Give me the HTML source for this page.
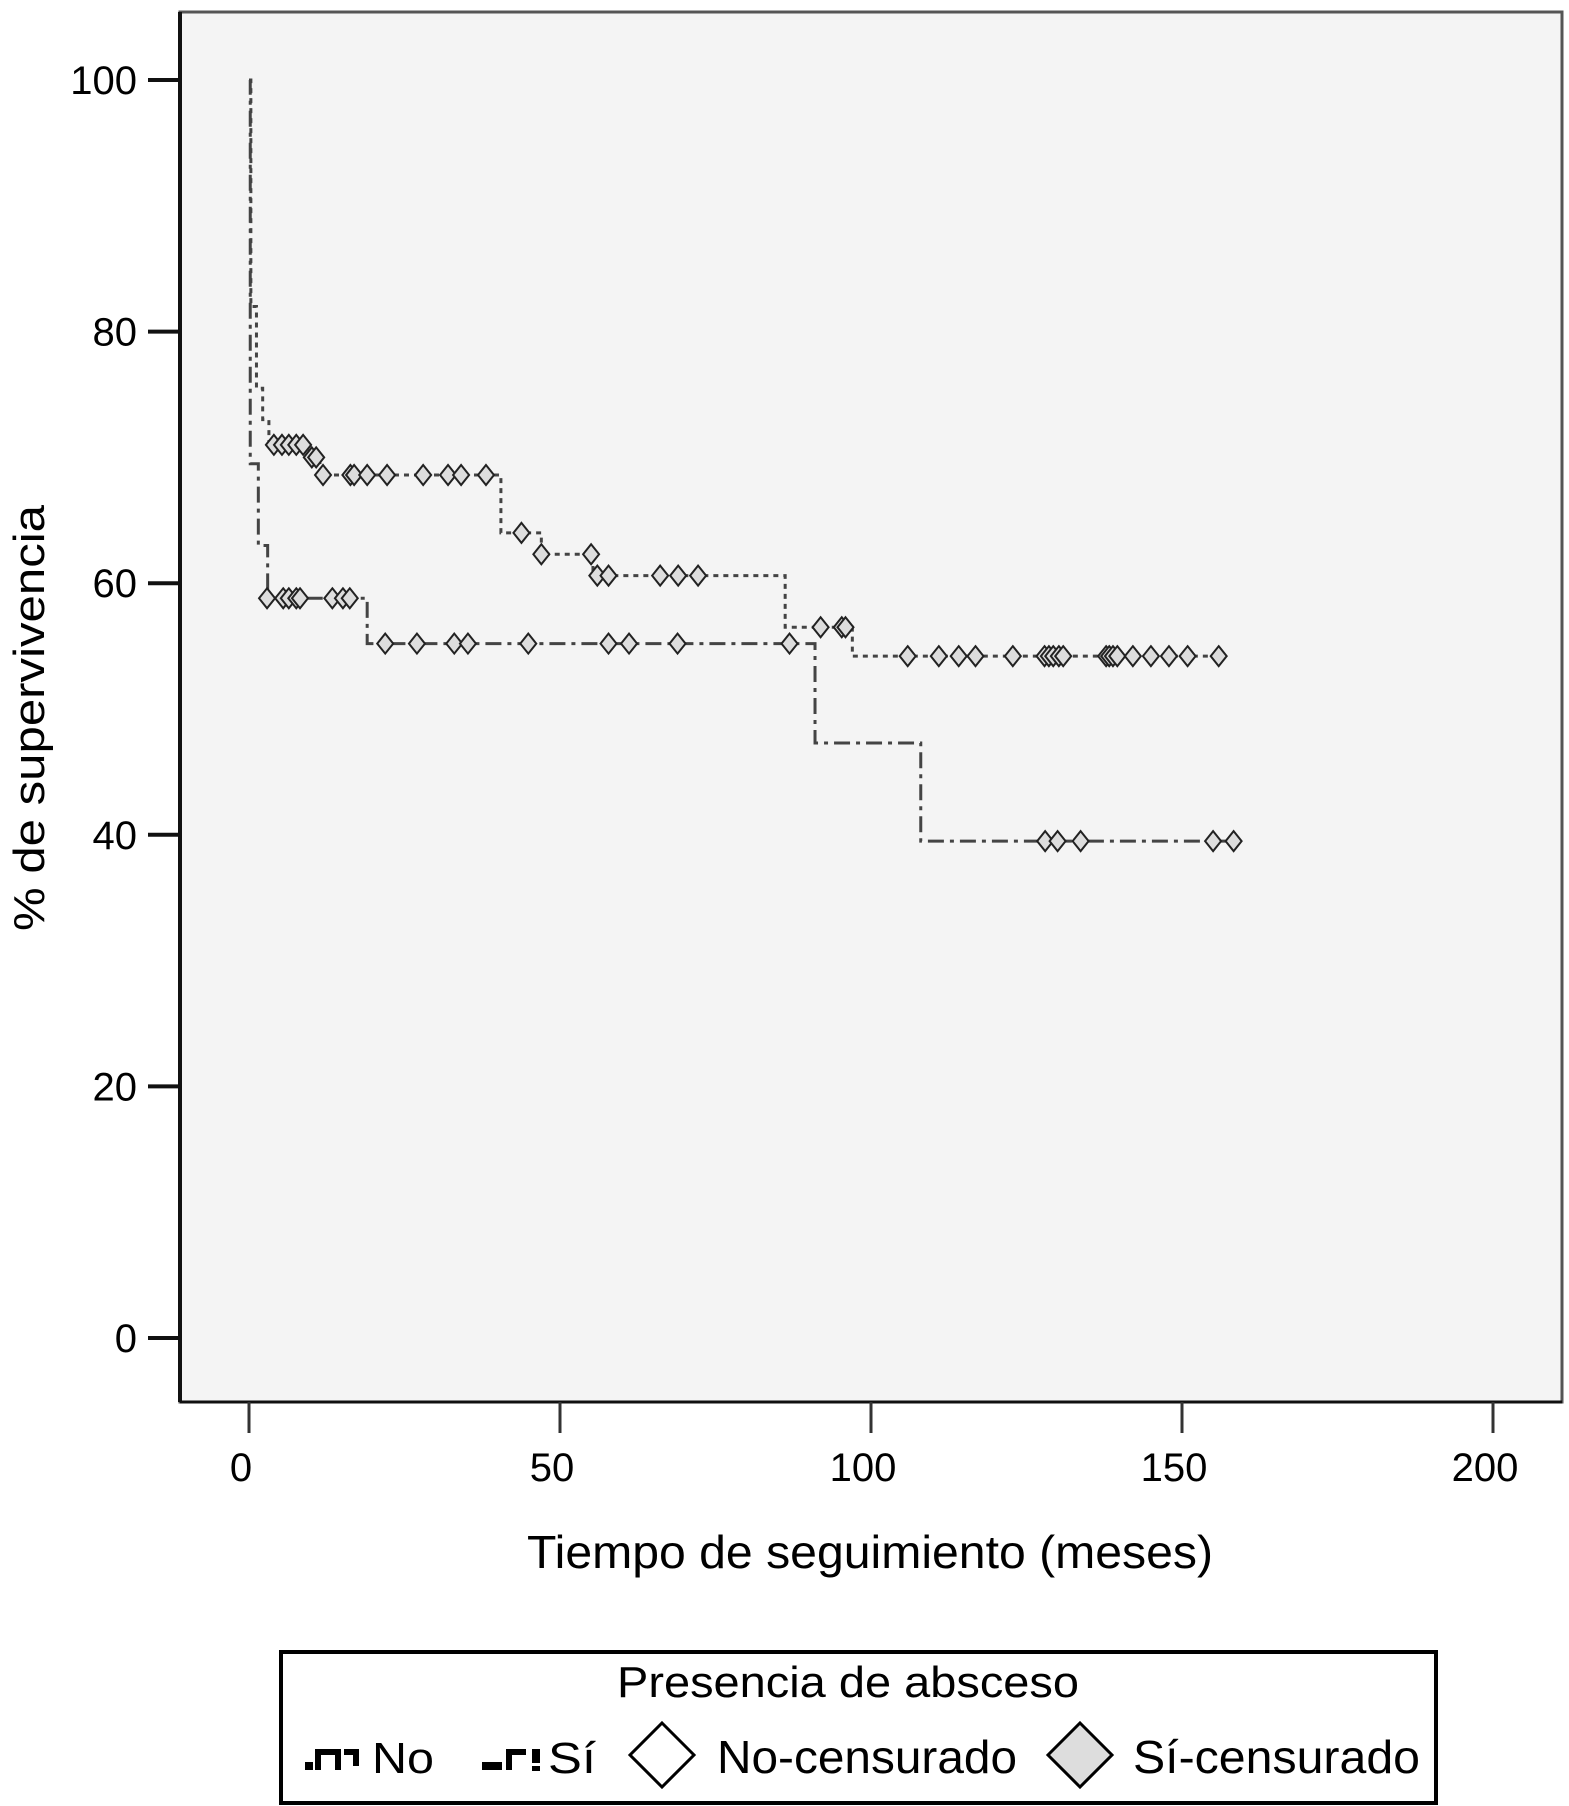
<!DOCTYPE html>
<html><head><meta charset="utf-8"><style>
html,body{margin:0;padding:0;background:#fff;}
svg{display:block;font-family:"Liberation Sans",Arial,sans-serif;}
</style></head><body>
<svg id="chart" width="1569" height="1806" viewBox="0 0 1569 1806">
<rect x="180" y="12" width="1382" height="1390" fill="#f4f4f4" stroke="#555" stroke-width="3"/>
<line x1="180" y1="12" x2="180" y2="1402" stroke="#111" stroke-width="4"/>
<line x1="180" y1="1402" x2="1562" y2="1402" stroke="#111" stroke-width="3"/>
<g id="yticks"></g><g id="xticks"></g>
<g id="curves"></g><g id="markers"></g>
<text x="44" y="718" font-size="44" text-anchor="middle" transform="rotate(-90 44 718)" textLength="426" lengthAdjust="spacingAndGlyphs">% de supervivencia</text>
<text x="870" y="1568" font-size="46" text-anchor="middle" textLength="686" lengthAdjust="spacingAndGlyphs">Tiempo de seguimiento (meses)</text>
<g>
<rect x="281" y="1652" width="1155" height="151" fill="#fff" stroke="#000" stroke-width="4"/>
<text x="848" y="1697" font-size="44" text-anchor="middle" textLength="462" lengthAdjust="spacingAndGlyphs">Presencia de absceso</text>
<g>
<rect x="305" y="1762" width="8" height="8" fill="#000"/>
<path d="M318 1770 V1752 H338 V1770" fill="none" stroke="#000" stroke-width="6"/>
<path d="M344 1752 H356 V1766" fill="none" stroke="#000" stroke-width="6"/>
<text x="372" y="1773" font-size="44" textLength="62" lengthAdjust="spacingAndGlyphs">No</text>
</g>
<g>
<rect x="482" y="1762" width="20" height="8" fill="#000"/>
<path d="M509 1770 V1752 H526" fill="none" stroke="#000" stroke-width="6"/>
<rect x="532" y="1749" width="8" height="14" fill="#000"/><rect x="532" y="1766" width="8" height="5" fill="#000"/>
<text x="548" y="1773" font-size="44" textLength="48" lengthAdjust="spacingAndGlyphs">Sí</text>
</g>
<g>
<path d="M662 1723 L694 1755 L662 1787 L630 1755 Z" fill="#fff" stroke="#000" stroke-width="3"/>
<text x="717" y="1773" font-size="46" textLength="300" lengthAdjust="spacingAndGlyphs">No-censurado</text>
</g>
<g>
<path d="M1080 1723 L1112 1755 L1080 1787 L1048 1755 Z" fill="#ddd" stroke="#000" stroke-width="3"/>
<text x="1133" y="1773" font-size="46" textLength="287" lengthAdjust="spacingAndGlyphs">Sí-censurado</text>
</g>
</g>
</svg>
<script>
const yTickVals=[0,20,40,60,80,100];
const xTickVals=[0,50,100,150,200];
const noStepTimes=[0.3,1.2,2.2,3.2,9.7,11.4,40.5,47,55.3,86.2,97];
const noStepVals=[82,75.5,73,71,70,68.6,64,62.3,60.6,56.5,54.2];
const noEnd=156;
const siStepTimes=[0.2,1.5,3,19,91,108];
const siStepVals=[69.5,63,58.8,55.2,47.3,39.5];
const siEnd=158.5;
const noCensorT=[4,5.3,6.4,7.6,8.7,10.1,10.8,11.9,16.3,16.9,19,22.2,28,32,34.1,38.1,43.8,47,55,56,57.8,66.1,69,72.2,91.9,95.3,95.9,105.9,110.9,114.1,116.8,122.8,127.9,128.6,129.3,130.2,130.9,137.8,138.3,138.9,139.6,142.1,145,147.9,150.9,155.9];
const noCensorS=[71,71,71,71,71,70,70,68.6,68.6,68.6,68.6,68.6,68.6,68.6,68.6,68.6,64,62.3,62.3,60.6,60.6,60.6,60.6,60.6,56.5,56.5,56.5,54.2,54.2,54.2,54.2,54.2,54.2,54.2,54.2,54.2,54.2,54.2,54.2,54.2,54.2,54.2,54.2,54.2,54.2,54.2];
const siCensorT=[2.9,5.5,6.4,7.6,8.2,13.4,15.1,16.2,21.9,27,33,35.2,44.9,57.8,61.1,68.9,86.9,128,130,133.7,155,158.3];
const siCensorS=[58.8,58.8,58.8,58.8,58.8,58.8,58.8,58.8,55.2,55.2,55.2,55.2,55.2,55.2,55.2,55.2,55.2,39.5,39.5,39.5,39.5,39.5];

const NS='http://www.w3.org/2000/svg';
const X=t=>249+t*6.22;
const Y=v=>1338-v*12.58;
function mk(tag,attrs,parent){const e=document.createElementNS(NS,tag);for(const k in attrs)e.setAttribute(k,attrs[k]);parent.appendChild(e);return e;}
const yt=document.getElementById('yticks');
yTickVals.forEach(v=>{
  const l=mk('line',{x1:148,x2:180,y1:Y(v),y2:Y(v),stroke:'#111','stroke-width':4},yt);
  
  
  const t=mk('text',{x:137,y:Y(v)+14,'font-size':40,'text-anchor':'end'},yt);
  t.textContent=v;
  
  
});
const xt=document.getElementById('xticks');
xTickVals.forEach(v=>{
  const l=mk('line',{x1:X(v),x2:X(v),y1:1402,y2:1433,stroke:'#333','stroke-width':3},xt);
  
  
  const t=mk('text',{x:X(v)-8,y:1481,'font-size':40,'text-anchor':'middle'},xt);
  t.textContent=v;
  
  
});
function stepPath(times,vals,end){
  let d='M'+X(0)+' '+Y(100);let prev=100;
  times.forEach((t,i)=>{d+=' H'+X(t)+' V'+Y(vals[i]);prev=vals[i];});
  d+=' H'+X(end);return d;
}
const cg=document.getElementById('curves');
const p1=mk('path',{d:stepPath(noStepTimes,noStepVals,noEnd),fill:'none',stroke:'#444','stroke-width':3,'stroke-dasharray':'5 5'},cg);


const p2=mk('path',{d:stepPath(siStepTimes,siStepVals,siEnd),fill:'none',stroke:'#444','stroke-width':3,'stroke-dasharray':'16 6 4 6'},cg);


const mg=document.getElementById('markers');
function diamonds(ts,ss,name){
  ts.forEach((t,i)=>{
    const x=X(t),y=Y(ss[i]);
    const d=mk('path',{d:`M${x} ${y-10} L${x+8} ${y} L${x} ${y+10} L${x-8} ${y} Z`,fill:'#ddd',stroke:'#222','stroke-width':2},mg);
    
    
  });
}
diamonds(noCensorT,noCensorS,'censor-marker-no');
diamonds(siCensorT,siCensorS,'censor-marker-si');
</script>
</body></html>
